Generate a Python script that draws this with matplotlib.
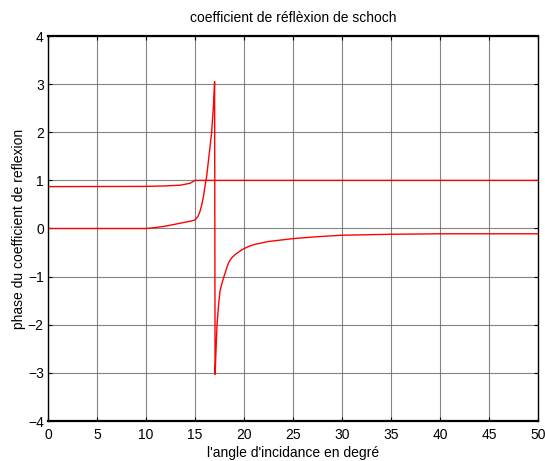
import matplotlib
matplotlib.use('Agg')
import matplotlib.pyplot as plt

plt.rcParams['font.family'] = ['Liberation Sans', 'DejaVu Sans']

# module du coefficient (0.87 puis reflexion totale a 1)
mod_angle = [0, 10, 12, 13.5, 14.5, 15, 50]
mod_val = [0.87, 0.875, 0.885, 0.9, 0.94, 1.0, 1.0]

# phase du coefficient, saut de +pi a -pi vers 17 degres
phase_angle = [0, 10, 11, 12, 13, 14, 14.7, 15, 15.3, 15.5, 15.7, 15.85, 16.0, 16.2, 16.45,
               16.7, 16.9, 17.0,
               17.05, 17.15, 17.25, 17.4, 17.55, 17.8, 18.05, 18.4, 18.7, 19.1, 19.8, 20.5,
               21.1, 22.5, 25, 27.5, 30, 35, 40, 50]
phase_val = [0, 0, 0.02, 0.05, 0.09, 0.13, 0.16, 0.18, 0.25, 0.35, 0.5, 0.65, 0.85, 1.1, 1.55,
             2.0, 2.6, 3.05,
             -3.03, -2.5, -2.0, -1.6, -1.3, -1.1, -0.94, -0.72, -0.62, -0.54, -0.44, -0.37,
             -0.33, -0.27, -0.21, -0.17, -0.14, -0.12, -0.11, -0.11]

xticks = list(range(0, 51, 5))
yticks = list(range(-4, 5))

fig = plt.figure(figsize=(5.45, 4.61), dpi=100)
ax = fig.add_axes([48 / 545, 40 / 461, 490 / 545, 385 / 461])

ax.plot(mod_angle, mod_val, color='#ff0000', lw=1)
ax.plot(phase_angle, phase_val, color='#ff0000', lw=1)

ax.set_xlim(0, 50)
ax.set_ylim(-4, 4)
ax.set_xticks(xticks)
ax.set_yticks(yticks)
ax.grid(True, color='0.4', lw=0.8, alpha=0.8)
ax.set_axisbelow(True)
ax.tick_params(direction='in', top=True, right=True, length=3, width=0.8,
               labelsize=10, pad=3)
ax.tick_params(axis='x', pad=5)
for s in ax.spines.values():
    s.set_linewidth(1.0)
ax.spines['top'].set_linewidth(1.6)
ax.spines['bottom'].set_linewidth(1.6)

ax.set_title('coefficient de réflèxion de schoch', fontsize=10, pad=10)
ax.set_xlabel("l'angle d'incidance en degré", fontsize=10, labelpad=3)
ax.set_ylabel('phase du coefficient de reflexion', fontsize=10, labelpad=1)

fig.savefig('out.png', dpi=100)
